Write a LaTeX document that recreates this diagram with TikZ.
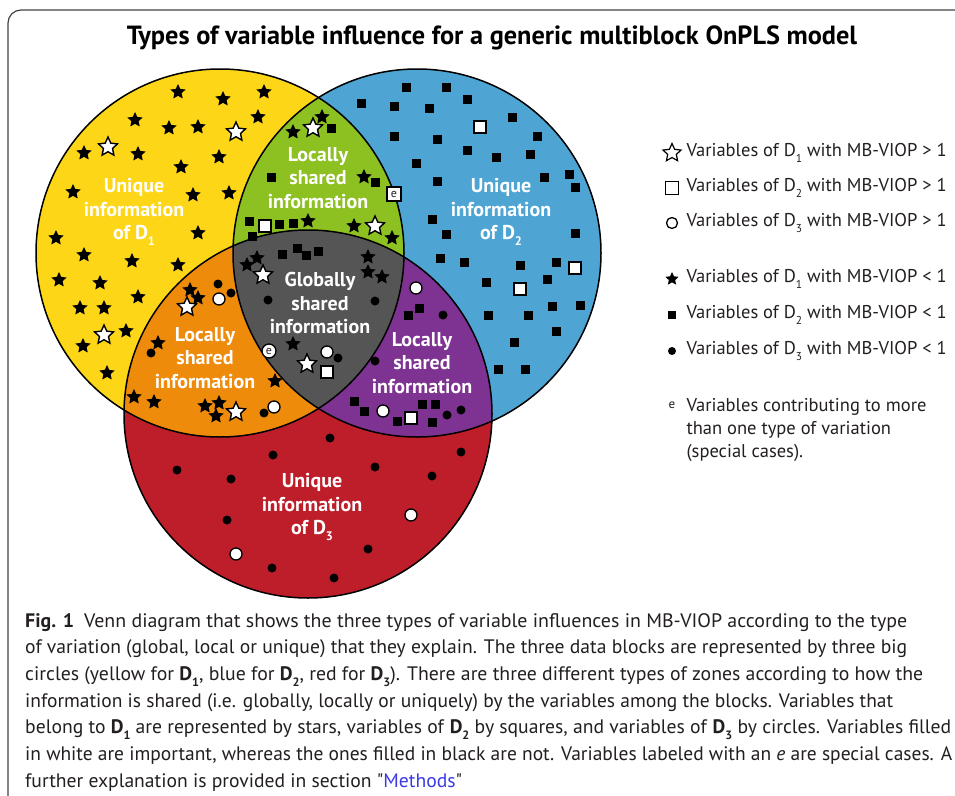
\documentclass[tikz,border=0pt]{standalone}
\usepackage{fontspec}
\setmainfont{PT Sans}
\newfontfamily\rawfont{PT Sans}
\usetikzlibrary{shapes.geometric}

\definecolor{cyellow}{HTML}{FDD617}
\definecolor{cblue}{HTML}{4EA4D3}
\definecolor{cred}{HTML}{BE1E2A}
\definecolor{cgreen}{HTML}{8DC021}
\definecolor{corange}{HTML}{EE8B0B}
\definecolor{cpurple}{HTML}{7E3291}
\definecolor{cgray}{HTML}{555555}
\definecolor{ink}{HTML}{231F20}
\definecolor{linkblue}{HTML}{3A3AE6}

% lowered small index, as in D_1
\newcommand\lsub[1]{\raisebox{-0.3em}{\scalebox{0.62}{#1}}}
% one caption line, set to a given width
\newcommand\capl[2]{\resizebox{#1pt}{\height}{#2}}
% straight double quote
\newcommand\sq{{\rawfont"}}

\begin{document}
\begin{tikzpicture}[x=1pt,y=-1pt,
  outline/.style={draw=black,line width=1.5pt},
  bstar/.style={star,star points=5,star point ratio=2.1,fill=black,inner sep=0pt,minimum size=16pt},
  wstar/.style={star,star points=5,star point ratio=2.1,fill=white,draw=black,line width=1.4pt,inner sep=0pt,minimum size=20pt},
  bsq/.style={rectangle,fill=black,inner sep=0pt,minimum size=9pt},
  wsq/.style={rectangle,fill=white,draw=black,line width=1.3pt,inner sep=0pt,minimum size=12pt},
  bdot/.style={circle,fill=black,inner sep=0pt,minimum size=9pt},
  wdot/.style={circle,fill=white,draw=black,line width=1.3pt,inner sep=0pt,minimum size=12pt},
  emark/.style={font=\fontsize{12}{12}\selectfont,text=ink},
  zone/.style={align=center,text=white,font=\fontsize{20}{23.3}\selectfont\bfseries},
  legtext/.style={anchor=west,text=ink,font=\fontsize{18.5}{23}\selectfont},
  capline/.style={anchor=base west,text=ink,inner sep=0pt,font=\fontsize{19.5}{26.7}\selectfont},
  lgwstar/.style={wstar,minimum size=19pt,line width=1.2pt},
  lgwsq/.style={wsq,minimum size=13pt,line width=1.2pt},
  lgwdot/.style={wdot,minimum size=11pt,line width=1.3pt},
  lgbstar/.style={bstar,minimum size=14pt},
  lgbsq/.style={bsq,minimum size=8pt},
  lgbdot/.style={bdot,minimum size=8pt}]

\useasboundingbox (0,0) rectangle (955,795);
\fill[white] (0,0) rectangle (955,795);

% panel frame
\begin{scope}
  \clip (0,0) rectangle (955,795);
  \draw[draw=ink!85,line width=1.2pt,rounded corners=13pt] (8,900) -- (8,10) -- (1000,10);
\end{scope}

% title
\node[font=\fontsize{26.3}{30}\selectfont\bfseries,text=black] (title) at (492,38)
  {Types of variable influence for a generic multiblock OnPLS model};

% the three blocks
\coordinate (cY) at (220,253);
\coordinate (cB) at (417,253);
\coordinate (cR) at (308,414);
\def\rad{184pt}
\fill[cyellow] (cY) circle[radius=\rad];
\fill[cblue] (cB) circle[radius=\rad];
\fill[cred] (cR) circle[radius=\rad];
\begin{scope}
  \clip (cY) circle[radius=\rad];
  \fill[cgreen] (cB) circle[radius=\rad];
  \fill[corange] (cR) circle[radius=\rad];
\end{scope}
\begin{scope}
  \clip (cB) circle[radius=\rad];
  \fill[cpurple] (cR) circle[radius=\rad];
  \clip (cY) circle[radius=\rad];
  \fill[cgray] (cR) circle[radius=\rad];
\end{scope}
\draw[outline] (cY) circle[radius=\rad];
\draw[outline] (cB) circle[radius=\rad];
\draw[outline] (cR) circle[radius=\rad];

% zone labels
\node[zone] (zY) at (134,212) {Unique\\information\\of D\lsub{1}};
\node[zone] (zB) at (501,212) {Unique\\information\\of D\lsub{2}};
\node[zone] (zR) at (312,507) {Unique\\information\\of D\lsub{3}};
\node[zone] (zYB) at (318,178) {Locally\\shared\\information};
\node[zone] (zYR) at (205,358) {Locally\\shared\\information};
\node[zone] (zBR) at (422,363) {Locally\\shared\\information};
\node[zone] (zAll) at (320,303) {Globally\\shared\\information};

% variables of D1 (stars)
\foreach \p [count=\i] in {(178,92),(223,99),(264,92),(135,120),(169,128),(198,127),(258,117),
  (84,153),(138,154),(219,157),(181,167),(73,192),(193,195),(229,193),(198,233),(56,238),
  (84,255),(132,261),(178,265),(59,280),(100,283),(138,297),(80,308),(104,308),(126,331),
  (83,346),(107,373),
  (293,132),(322,117),(364,177),(308,221),(354,226),(392,238),
  (247,265),(257,258),(368,257),(368,272),(382,277),(293,344),
  (190,290),(198,298),(158,343),(275,381),(134,397),(154,402),(205,406),(219,403),(216,416)}
  \node[bstar] (bs\i) at \p {};
\foreach \p [count=\i] in {(108,147),(236,132),(104,335),(313,128),(375,226),(263,275),
  (307,364),(187,307),(236,412)}
  \node[wstar] (ws\i) at \p {};

% variables of D2 (squares)
\foreach \p [count=\i] in {(331,128),(271,177),(375,182),(249,221),(252,236),(279,224),(293,223),
  (282,254),(297,248),(306,255),(318,251),
  (406,87),(446,87),(361,103),(394,106),(429,108),(467,99),(512,117),(394,136),(437,139),
  (467,150),(496,157),(530,154),(537,136),(416,163),(437,181),(544,177),(569,174),(575,187),
  (432,219),(446,234),(575,233),(440,258),(464,262),(520,265),(556,262),(547,279),(486,282),
  (552,306),(580,305),(488,315),(528,315),(556,331),(514,342),(498,369),(525,369),
  (419,308),(408,315),(354,401),(364,411),(397,421),(422,404),(435,404),(432,422)}
  \node[bsq] (bq\i) at \p {};
\foreach \p [count=\i] in {(265,226),(480,127),(575,268),(520,289),(327,372),(411,418)}
  \node[wsq] (wq\i) at \p {};

% variables of D3 (circles)
\foreach \p [count=\i] in {(268,300),(375,301),(338,358),
  (218,284),(231,293),(151,353),(264,413),
  (443,315),(375,361),(447,415),(461,410),
  (330,438),(273,455),(177,470),(231,479),(375,467),(461,452),(432,476),(227,520),
  (368,549),(272,568),(334,578)}
  \node[bdot] (bd\i) at \p {};
\foreach \p [count=\i] in {(219,299),(327,352),(274,407),(416,288),(383,411),(411,515),(236,554)}
  \node[wdot] (wd\i) at \p {};

% special cases
\node[wsq,minimum size=14pt] (eq) at (394,194) {};
\node[emark] at ([yshift=-0.5pt]eq.center) {e};
\node[wdot,minimum size=14pt] (ed) at (269,351) {};
\node[emark] at ([yshift=-0.5pt]ed.center) {e};

% legend
\node[lgwstar] (k1) at (672,153) {};
\node[legtext] (t1) at (683,153) {Variables of D\lsub{1} with MB-VIOP > 1};
\node[lgwsq] (k2) at (672,188) {};
\node[legtext] (t2) at (683,188) {Variables of D\lsub{2} with MB-VIOP > 1};
\node[lgwdot] (k3) at (672,223) {};
\node[legtext] (t3) at (683,223) {Variables of D\lsub{3} with MB-VIOP > 1};
\node[lgbstar] (k4) at (672,279) {};
\node[legtext] (t4) at (683,279) {Variables of D\lsub{1} with MB-VIOP < 1};
\node[lgbsq] (k5) at (672,315) {};
\node[legtext] (t5) at (683,315) {Variables of D\lsub{2} with MB-VIOP < 1};
\node[lgbdot] (k6) at (672,351) {};
\node[legtext] (t6) at (683,351) {Variables of D\lsub{3} with MB-VIOP < 1};
\node[emark,font=\fontsize{13}{13}\selectfont] (k7) at (672,405) {e};
\node[legtext,anchor=north west,align=left] (t7) at (683,395)
  {Variables contributing to more\\than one type of variation\\(special cases).};

% caption
\node[capline] (c1) at (25,627) {\capl{882}{\textbf{Fig. 1}\enspace Venn diagram that shows the three types of variable influences in MB-VIOP according to the type}};
\node[capline] (c2) at (25,653.7) {\capl{882}{of variation (global, local or unique) that they explain. The three data blocks are represented by three big}};
\node[capline] (c3) at (25,680.4) {\capl{898}{circles (yellow for \textbf{D\lsub{1}}, blue for \textbf{D\lsub{2}}, red for \textbf{D\lsub{3}}). There are three different types of zones according to how the}};
\node[capline] (c4) at (25,707.1) {\capl{868}{information is shared (i.e. globally, locally or uniquely) by the variables among the blocks. Variables that}};
\node[capline] (c5) at (25,733.8) {\capl{926}{belong to \textbf{D\lsub{1}} are represented by stars, variables of \textbf{D\lsub{2}} by squares, and variables of \textbf{D\lsub{3}} by circles. Variables filled}};
\node[capline] (c6) at (25,760.5) {\capl{927}{in white are important, whereas the ones filled in black are not. Variables labeled with an \textit{e} are special cases. A}};
\node[capline] (c7) at (25,787.2) {\capl{437}{further explanation is provided in section \sq\textcolor{linkblue}{Methods}\sq}};
\end{tikzpicture}
\end{document}
